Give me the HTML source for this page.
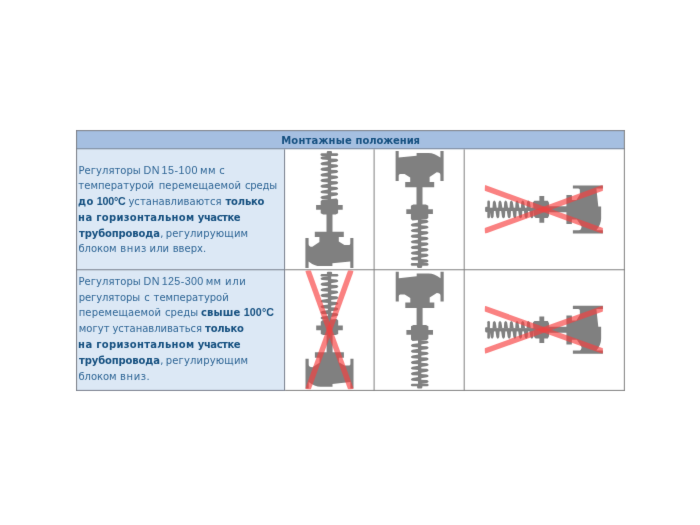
<!DOCTYPE html>
<html lang="ru">
<head>
<meta charset="utf-8">
<title>Монтажные положения</title>
<style>
html,body{margin:0;padding:0;background:#fff}
body{width:700px;height:525px;position:relative;overflow:hidden}
.page{position:absolute;left:0;top:0;width:700px;height:525px;background:#fff;font-family:"DejaVu Sans", "Liberation Sans", sans-serif;font-size:10px;line-height:16px;color:#2f6696;filter:url(#soft)}
.gfx{position:absolute;left:0;top:0;display:block}
.ln{position:absolute;margin:0;padding:0;height:16px;white-space:nowrap;font-size:0;line-height:0;font-weight:normal}
.ln>span,.ln>b{display:inline-block;vertical-align:baseline;font-size:10px;line-height:16px;white-space:nowrap}
.ln>b{font-weight:bold;color:#155080}
.ln .l{font-family:"Liberation Sans","DejaVu Sans",sans-serif;font-size:10.7px;line-height:1}
</style>
</head>
<body>
<svg width="0" height="0" style="position:absolute" aria-hidden="true"><filter id="soft" x="0" y="0" width="100%" height="100%" color-interpolation-filters="sRGB"><feConvolveMatrix order="3" kernelMatrix="0.0052 0.0619 0.0052 0.0619 0.7314 0.0619 0.0052 0.0619 0.0052" divisor="1" edgeMode="duplicate" preserveAlpha="true"/></filter></svg>
<div class="page">
<svg class="gfx" width="700" height="525" viewBox="0 0 700 525">
<defs><g id="valve" fill="#808080">
<rect x="-2.6" y="0" width="5.2" height="3.4" rx="1.1"/>
<rect x="-8.9" y="2.2" width="17.7" height="2.6" rx="1.3"/>
<rect x="-1.6" y="2" width="3.3" height="48"/>
<path d="M-1.3,4.60 L-7.3,5.50 Q-10.5,6.95 -7.3,8.40 L-1.3,8.80 Z M-1.3,10.23 L-7.3,11.13 Q-10.5,12.58 -7.3,14.03 L-1.3,14.43 Z M-1.3,15.86 L-7.3,16.76 Q-10.5,18.21 -7.3,19.66 L-1.3,20.06 Z M-1.3,21.49 L-7.3,22.39 Q-10.5,23.84 -7.3,25.29 L-1.3,25.69 Z M-1.3,27.12 L-7.3,28.02 Q-10.5,29.47 -7.3,30.92 L-1.3,31.32 Z M-1.3,32.75 L-7.3,33.65 Q-10.5,35.10 -7.3,36.55 L-1.3,36.95 Z M-1.3,38.38 L-7.3,39.28 Q-10.5,40.73 -7.3,42.18 L-1.3,42.58 Z M-1.3,44.01 L-7.3,44.91 Q-10.5,46.36 -7.3,47.81 L-1.3,48.21 Z M1.3,7.30 L7.2,7.70 Q10.4,9.15 7.2,10.60 L1.3,11.50 Z M1.3,12.93 L7.2,13.33 Q10.4,14.78 7.2,16.23 L1.3,17.13 Z M1.3,18.56 L7.2,18.96 Q10.4,20.41 7.2,21.86 L1.3,22.76 Z M1.3,24.19 L7.2,24.59 Q10.4,26.04 7.2,27.49 L1.3,28.39 Z M1.3,29.82 L7.2,30.22 Q10.4,31.67 7.2,33.12 L1.3,34.02 Z M1.3,35.45 L7.2,35.85 Q10.4,37.30 7.2,38.75 L1.3,39.65 Z M1.3,41.08 L7.2,41.48 Q10.4,42.93 7.2,44.38 L1.3,45.28 Z"/>
<path d="M-7.2,48.6 L7.2,47.4 L8.7,48.9 V53.8 H13.3 V58.6 H8.7 V62.2 L6.3,63.4 H3.1 V80.6 H14.4 V86 H9.4 V90.5 L15,93.9 H19.4 Q20.9,93.9 20.9,92.4 V87 H24 V116.8 H20.9 V110.3 L3,112.2 V115 H-9 Q-15,115 -20.8,110.3 V116.8 H-24 V87 H-20.8 V92.8 Q-20.8,95.6 -17.1,95.6 L-10,91 V86 H-14.6 V80.6 H-2.9 V63.4 H-6.3 L-8.7,62.2 V58.6 H-13.3 V53.8 H-8.7 V50.1 Z"/>
</g></defs>
<rect x="76.6" y="130.6" width="547.8" height="18.2" fill="#a5bfe1"/>
<rect x="76.6" y="148.8" width="208" height="241.6" fill="#dce8f5"/>
<g fill="none" stroke-width="1">
<path d="M76.1,148.75 H624.9" stroke="#768397"/>
<path d="M76.1,130.65 H624.9 M76.6,130.1 V390.9" stroke="#787b84"/>
<path d="M76.1,269.75 H284.6 M76.1,390.4 H284.6 M284.6,149.3 V390.9" stroke="#797f8c"/>
<path d="M285.1,269.75 H624.9 M285.1,390.4 H624.9 M374.1,149.3 V390.9 M464.2,149.3 V390.9 M624.35,130.1 V390.9" stroke="#808080"/>
</g>
<use href="#valve" transform="translate(329.4,151.1)"/>
<use href="#valve" transform="translate(419.6,267.9) rotate(180)"/>
<use href="#valve" transform="translate(485.1,209.4) rotate(-90) scale(1,1.009)"/>
<use href="#valve" transform="translate(329.5,271.7)"/>
<use href="#valve" transform="translate(419.7,388.5) rotate(180)"/>
<use href="#valve" transform="translate(485.1,329.8) rotate(-90) scale(1,1.009)"/>
<clipPath id="c1"><rect x="484.8" y="185.1" width="118.1" height="48.5"/></clipPath><g clip-path="url(#c1)" stroke="#f73d3d" stroke-opacity="0.65" stroke-width="5.5" fill="none"><line x1="484.3" y1="187.6" x2="603.4" y2="231.1"/><line x1="484.3" y1="231.1" x2="603.4" y2="187.6"/></g>
<clipPath id="c2"><rect x="305.3" y="270.6" width="48.3" height="118.6"/></clipPath><g clip-path="url(#c2)" stroke="#f73d3d" stroke-opacity="0.65" stroke-width="5.5" fill="none"><line x1="307.8" y1="270.1" x2="351.1" y2="389.7"/><line x1="351.1" y1="270.1" x2="307.8" y2="389.7"/></g>
<clipPath id="c3"><rect x="484.8" y="305.9" width="118.1" height="47.8"/></clipPath><g clip-path="url(#c3)" stroke="#f73d3d" stroke-opacity="0.65" stroke-width="5.5" fill="none"><line x1="484.3" y1="308.4" x2="603.4" y2="351.2"/><line x1="484.3" y1="351.2" x2="603.4" y2="308.4"/></g>
</svg>
<h1 class="ln" style="left:281.19px;top:132.5px"><b style="width:74.43px;letter-spacing:0.193px">Монтажные</b> <b style="letter-spacing:-0.082px">положения</b></h1>
<p class="ln" style="left:78.52px;top:162.5px"><span style="width:64.94px;letter-spacing:0.034px">Регуляторы</span> <span style="width:18.14px;letter-spacing:0.669px"><span class="l">DN</span></span> <span style="width:38.53px;letter-spacing:0.516px"><span class="l">15-100</span></span> <span style="width:19.05px;letter-spacing:0.430px">мм</span> <span style="letter-spacing:0.000px">с</span></p>
<p class="ln" style="left:78.37px;top:177.5px"><span style="width:80.29px;letter-spacing:0.033px">температурой</span> <span style="width:86.33px;letter-spacing:0.155px">перемещаемой</span> <span style="letter-spacing:-0.185px">среды</span></p>
<p class="ln" style="left:77.95px;top:193.5px"><b style="width:18.89px;letter-spacing:0.422px">до</b> <b style="width:31.61px;letter-spacing:-0.206px"><span class="l">100°C</span></b> <span style="width:97.11px;letter-spacing:0.035px">устанавливаются</span> <b style="letter-spacing:-0.203px">только</b></p>
<p class="ln" style="left:77.94px;top:209.5px"><b style="width:18.30px;letter-spacing:0.700px">на</b> <b style="width:101.62px;letter-spacing:0.302px">горизонтальном</b> <b style="letter-spacing:-0.450px">участке</b></p>
<p class="ln" style="left:79.08px;top:225.5px"><b style="width:81.09px;letter-spacing:-0.134px">трубопровода</b><span style="width:5.52px;letter-spacing:0.000px">,</span> <span style="letter-spacing:0.157px">регулирующим</span></p>
<p class="ln" style="left:78.39px;top:240.5px"><span style="width:41.87px;letter-spacing:-0.025px">блоком</span> <span style="width:29.39px;letter-spacing:0.648px">вниз</span> <span style="width:23.03px;letter-spacing:0.022px">или</span> <span style="letter-spacing:0.049px">вверх.</span></p>
<p class="ln" style="left:78.52px;top:273.5px"><span style="width:64.94px;letter-spacing:0.034px">Регуляторы</span> <span style="width:18.22px;letter-spacing:0.669px"><span class="l">DN</span></span> <span style="width:44.03px;letter-spacing:0.393px"><span class="l">125-300</span></span> <span style="width:19.40px;letter-spacing:0.336px">мм</span> <span style="letter-spacing:0.615px">или</span></p>
<p class="ln" style="left:78.69px;top:289.5px"><span style="width:65.49px;letter-spacing:-0.099px">регуляторы</span> <span style="width:9.43px;letter-spacing:0.000px">с</span> <span style="letter-spacing:-0.025px">температурой</span></p>
<p class="ln" style="left:78.64px;top:304.5px"><span style="width:86.35px;letter-spacing:0.155px">перемещаемой</span> <span style="width:36.06px;letter-spacing:0.065px">среды</span> <b style="width:42.79px;letter-spacing:0.121px">свыше</b> <b style="letter-spacing:0.092px"><span class="l">100°C</span></b></p>
<p class="ln" style="left:78.69px;top:320.5px"><span style="width:33.76px;letter-spacing:0.063px">могут</span> <span style="width:92.66px;letter-spacing:-0.032px">устанавливаться</span> <b style="letter-spacing:-0.253px">только</b></p>
<p class="ln" style="left:77.94px;top:336.5px"><b style="width:18.30px;letter-spacing:0.700px">на</b> <b style="width:101.62px;letter-spacing:0.302px">горизонтальном</b> <b style="letter-spacing:-0.450px">участке</b></p>
<p class="ln" style="left:79.08px;top:352.5px"><b style="width:81.09px;letter-spacing:-0.134px">трубопровода</b><span style="width:5.52px;letter-spacing:0.000px">,</span> <span style="letter-spacing:0.157px">регулирующим</span></p>
<p class="ln" style="left:78.39px;top:368.5px"><span style="width:41.69px;letter-spacing:-0.025px">блоком</span> <span style="letter-spacing:0.567px">вниз.</span></p>
</div>
</body>
</html>
